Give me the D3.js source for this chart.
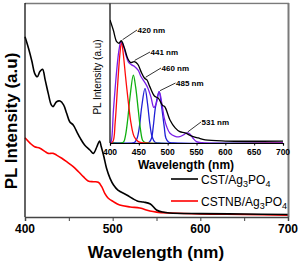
<!DOCTYPE html>
<html>
<head>
<meta charset="utf-8">
<script src="https://cdn.jsdelivr.net/npm/d3@7"></script>
<style>
    body { margin: 0; background: #fff; }
    svg { display: block; }
    text { font-family: Arial, "Liberation Sans", sans-serif; }
</style>
</head>
<body>
<div id="chart"></div>
<script>

/************ DATA ***************/
// main plot: wavelength (nm) / PL intensity (a.u)
var cstWave = [400, 404, 408, 411, 414, 417, 420, 423, 426.5, 430, 432, 436, 440, 444, 447.5, 451, 455, 459, 463, 468, 474, 478, 482, 485, 487, 490, 493, 497, 501, 506, 516, 528, 535, 543, 550, 557, 565, 600, 650, 700];
var cstVals = [84.4, 79.0, 72.7, 67.3, 65.7, 68.1, 69.2, 64.2, 57.9, 52.5, 51.7, 54.0, 54.3, 52.5, 48.6, 44.6, 43.1, 40.0, 36.9, 33.7, 31.4, 29.8, 32.9, 35.6, 32.9, 28.2, 22.8, 18.1, 15.0, 12.6, 10.3, 7.5, 7.0, 6.1, 3.3, 2.3, 1.9, 1.6, 1.4, 1.2];

var cstnbWave = [400, 406, 411, 417, 423, 426.5, 432, 436, 442, 447.5, 455, 461, 466.5, 472, 478, 483.6, 487.5, 491, 495, 500.7, 508, 520, 531, 542.5, 550, 565, 600, 650, 700];
var cstnbVals = [37.1, 34.5, 32.9, 32.2, 30.6, 29.8, 29.8, 29.0, 27.5, 25.9, 23.6, 21.2, 18.9, 16.9, 16.5, 16.3, 14.2, 11.1, 8.8, 7.2, 5.6, 4.7, 4.2, 2.8, 2.3, 1.9, 1.4, 1.2, 0.9];

var legendNames = ["CST/Ag", "CSTNB/Ag"];
var mainTicks = [400, 500, 600, 700];
var mainMinor = [450, 550, 650];

// inset: measured spectrum, fitted sum and fitted peaks
var insetWave = [400, 405.7, 411.6, 415.6, 419.5, 425, 430.6, 436, 442, 448, 454, 460, 464, 469, 477, 484, 491, 495, 504, 513, 521, 530, 542, 553, 565, 600, 700];
var insetVals = [88.2, 81.0, 72.6, 71.5, 73.3, 68.1, 60.7, 57.6, 58.3, 56.6, 51.0, 46.4, 45.2, 40.4, 33.7, 32.0, 27.0, 26.0, 16.5, 10.8, 8.1, 7.2, 5.0, 3.6, 2.2, 1.4, 1.4];

var sumWave = [400, 402, 406, 411.6, 415.6, 419, 423, 427, 432, 437.6, 443, 449, 454, 459.5, 465, 471, 476, 480, 485.5, 490, 494, 498, 504, 513, 521, 527, 533, 539, 544, 550, 560, 700];
var sumVals = [0, 1, 23.7, 52, 66.7, 72.6, 70, 64, 58, 56, 54.7, 52, 47.5, 44, 40, 33, 25.5, 28, 36.8, 28, 18, 12, 7, 4.8, 4.5, 5.7, 7.2, 6.3, 3.4, 1, 0.2, 0];

var redWave = [400, 405, 409, 413, 417, 420, 423, 427, 432, 436.5, 442, 449, 460, 700];
var redVals = [0, 1, 15, 40, 63, 72.6, 64, 47.5, 28.5, 14, 4.5, 1, 0, 0];

var greenWave = [400, 420, 424, 427, 430.6, 434.7, 440.5, 444.5, 449, 453, 456.5, 460, 465, 700];
var greenVals = [0, 0, 1, 5.7, 16.5, 33, 48.7, 40, 23.7, 9.3, 2, 0.5, 0, 0];

var blue1Wave = [400, 440, 443, 447, 451, 455, 460.7, 465, 469, 473, 478, 485, 700];
var blue1Vals = [0, 0, 0.5, 3.4, 11.7, 26, 39.2, 28.5, 14, 4.5, 0.5, 0, 0];

var blue2Wave = [400, 465, 468, 472, 475, 479, 485, 489.5, 494, 497, 502, 510, 700];
var blue2Vals = [0, 0, 0.5, 3.4, 11.7, 26, 36.8, 26, 11.7, 3.4, 0.5, 0, 0];

var insetTicks = [400, 450, 500, 550, 600, 650, 700];
var peakLabels = ["420 nm", "441 nm", "460 nm", "485 nm", "531 nm"];
var peakWave = [420, 441, 460, 485, 533];
var peakVals = [73.3, 58.5, 46.4, 36.8, 7.2];


/************ PAGE SET-UP ***************/
var width = 301;
var height = 265;

var svg = d3.select("#chart").append("svg")
    .attr("width", width)
    .attr("height", height);

var x = d3.scaleLinear().domain([400, 700]).range([25, 288]);
var y = d3.scaleLinear().domain([0, 100]).range([217, 3.5]);

var xi = d3.scaleLinear().domain([400, 700]).range([110, 283]);
var yi = d3.scaleLinear().domain([0, 100]).range([143, 3.5]);

function pairs(w, v) {
    return w.map(function (d, i) { return [d, v[i]]; });
}


/************ MAIN PLOT ***************/
var mainLine = d3.line()
    .x(function (d) { return x(d[0]); })
    .y(function (d) { return y(d[1]); })
    .curve(d3.curveCatmullRom.alpha(0.5));

svg.append("path")
    .attr("d", mainLine(pairs(cstnbWave, cstnbVals)))
    .attr("fill", "none")
    .attr("stroke", "#ff0000")
    .attr("stroke-width", 1.6);

svg.append("path")
    .attr("d", mainLine(pairs(cstWave, cstVals)))
    .attr("fill", "none")
    .attr("stroke", "#000")
    .attr("stroke-width", 1.6);

// frame: grey top and right, dark left and bottom
svg.append("line")
    .attr("x1", x(400)).attr("x2", x(700) + 1)
    .attr("y1", 3.5).attr("y2", 3.5)
    .attr("stroke", "#7a7a7a").attr("stroke-width", 1.5);
svg.append("line")
    .attr("x1", x(700) + 0.5).attr("x2", x(700) + 0.5)
    .attr("y1", 3).attr("y2", 217)
    .attr("stroke", "#7a7a7a").attr("stroke-width", 2);
svg.append("line")
    .attr("x1", x(400)).attr("x2", x(400))
    .attr("y1", 3).attr("y2", 217)
    .attr("stroke", "#111").attr("stroke-width", 1.3);

var xAxis = svg.append("g")
    .attr("transform", "translate(0,217)")
    .call(d3.axisBottom(x).tickValues(mainTicks.concat(mainMinor)).tickSize(4).tickFormat(""));
xAxis.select(".domain").attr("stroke", "#444").attr("stroke-width", 1.5);
xAxis.selectAll(".tick line").attr("stroke", "#444");

svg.selectAll(".mainTick")
    .data(mainTicks)
    .enter().append("text")
    .attr("class", "mainTick")
    .attr("x", function (d) { return x(d); })
    .attr("y", 233)
    .attr("text-anchor", "middle")
    .style("font-size", "12px")
    .style("font-weight", "bold")
    .text(function (d) { return d; });

svg.append("text")
    .attr("x", 156)
    .attr("y", 258)
    .attr("text-anchor", "middle")
    .style("font-size", "17px")
    .style("font-weight", "bold")
    .text("Wavelength (nm)");

svg.append("text")
    .attr("transform", "translate(17,121) rotate(-90)")
    .attr("text-anchor", "middle")
    .style("font-size", "17px")
    .style("font-weight", "bold")
    .text("PL Intensity (a.u)");

// legend
var legendColors = ["#000", "#ff0000"];
var legend = svg.selectAll(".legend")
    .data(legendNames)
    .enter().append("g")
    .attr("class", "legend")
    .attr("transform", function (d, i) { return "translate(171," + (179 + i * 22) + ")"; });

legend.append("line")
    .attr("x1", 0).attr("x2", 27)
    .attr("stroke", function (d, i) { return legendColors[i]; })
    .attr("stroke-width", 1.6);

var legendText = legend.append("text")
    .attr("x", 30)
    .attr("y", 5)
    .style("font-size", "12px");
legendText.append("tspan").text(function (d) { return d; });
legendText.append("tspan").attr("dy", 3).style("font-size", "9px").text("3");
legendText.append("tspan").attr("dy", -3).text("PO");
legendText.append("tspan").attr("dy", 3).style("font-size", "9px").text("4");


/************ INSET ***************/
svg.append("rect")
    .attr("x", 110).attr("y", 4.5)
    .attr("width", 177).attr("height", 138.5)
    .attr("fill", "#fff");

svg.append("clipPath").attr("id", "insetClip")
    .append("rect")
    .attr("x", 110).attr("y", 3.5)
    .attr("width", 174).attr("height", 140);

var insetLine = d3.line()
    .x(function (d) { return xi(d[0]); })
    .y(function (d) { return yi(d[1]); })
    .curve(d3.curveCatmullRom.alpha(0.5));

var insetG = svg.append("g").attr("clip-path", "url(#insetClip)");

var fits = [
    { w: blue2Wave, v: blue2Vals, c: "#1f1fd6" },
    { w: blue1Wave, v: blue1Vals, c: "#1f1fd6" },
    { w: greenWave, v: greenVals, c: "#10b010" },
    { w: redWave, v: redVals, c: "#ff0a0a" },
    { w: sumWave, v: sumVals, c: "#7a1ee6" },
    { w: insetWave, v: insetVals, c: "#000" }
];

fits.forEach(function (f) {
    insetG.append("path")
        .attr("d", insetLine(pairs(f.w, f.v)))
        .attr("fill", "none")
        .attr("stroke", f.c)
        .attr("stroke-width", 1.3);
});

svg.append("line")
    .attr("x1", 110).attr("x2", 110)
    .attr("y1", 3.5).attr("y2", 143)
    .attr("stroke", "#000").attr("stroke-width", 1.2);

var xiAxis = svg.append("g")
    .attr("transform", "translate(0,143)")
    .call(d3.axisBottom(xi).tickValues(insetTicks).tickSize(2.5).tickFormat(""));
xiAxis.select(".domain").attr("stroke", "#000").attr("stroke-width", 1.2);

svg.selectAll(".insetTick")
    .data(insetTicks)
    .enter().append("text")
    .attr("class", "insetTick")
    .attr("x", function (d) { return xi(d); })
    .attr("y", 155)
    .attr("text-anchor", "middle")
    .style("font-size", "8.5px")
    .style("font-weight", "bold")
    .text(function (d) { return d; });

svg.append("text")
    .attr("x", 186)
    .attr("y", 169)
    .attr("text-anchor", "middle")
    .style("font-size", "12px")
    .style("font-weight", "bold")
    .text("Wavelength (nm)");

svg.append("text")
    .attr("transform", "translate(101,77) rotate(-90)")
    .attr("text-anchor", "middle")
    .style("font-size", "10px")
    .text("PL Intensity (a.u)");

// peak annotations
var labelPos = [[137, 30], [150, 52], [161, 68], [175.5, 83], [201, 122]];

peakLabels.forEach(function (lab, i) {
    var px = xi(peakWave[i]) + 1;
    var py = yi(peakVals[i]) - 1;
    svg.append("line")
        .attr("x1", px).attr("y1", py)
        .attr("x2", labelPos[i][0]).attr("y2", labelPos[i][1])
        .attr("stroke", "#000").attr("stroke-width", 0.8);
    svg.append("text")
        .attr("x", labelPos[i][0] + 0.5)
        .attr("y", labelPos[i][1] + 3)
        .style("font-size", "8px")
        .style("font-weight", "bold")
        .text(lab);
});

</script>
</body>
</html>
